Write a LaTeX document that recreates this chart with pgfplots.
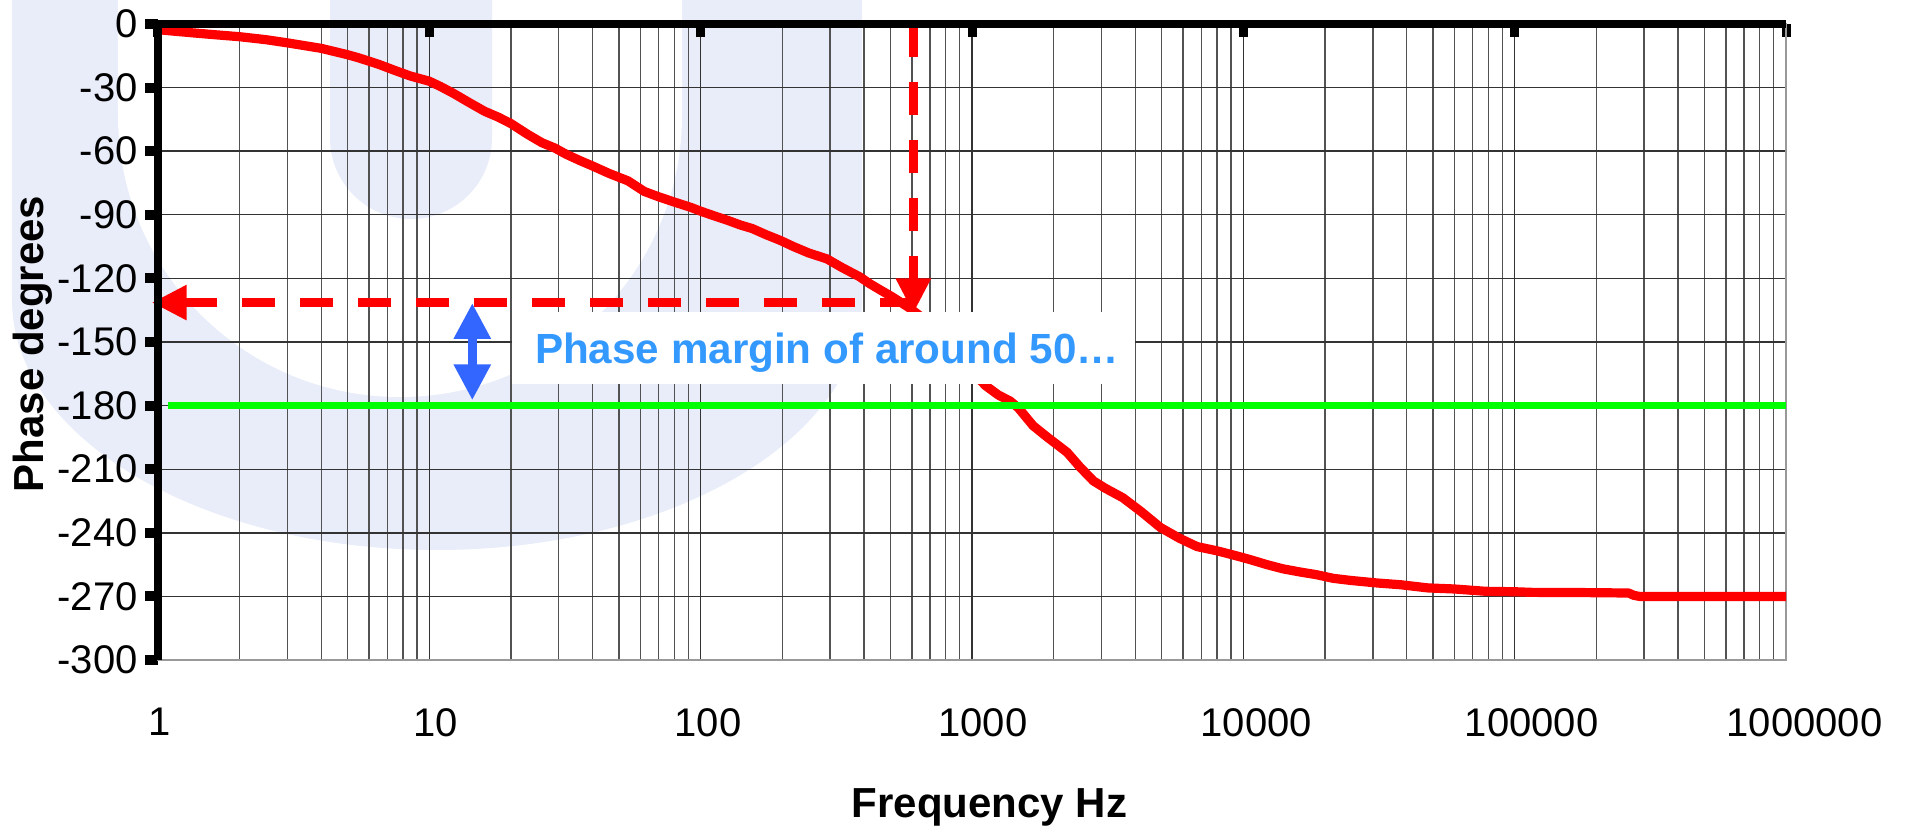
\documentclass[border=0pt]{standalone}
\usepackage{fontspec}
\setmainfont{Liberation Sans}
\usepackage{pgfplots}
\usepackage{pgfplotstable}
\pgfplotsset{compat=1.18}
\usetikzlibrary{arrows.meta}

\definecolor{wm}{RGB}{233,237,249}
\definecolor{curvered}{RGB}{255,0,0}
\definecolor{limitgreen}{RGB}{0,255,0}
\definecolor{marginblue}{RGB}{51,102,255}
\definecolor{notetext}{RGB}{51,153,255}

% measured open-loop phase (Hz, degrees)
\pgfplotstableread{
f deg
1 -2.7
1.35 -4.2
1.6 -5
2 -6
2.5 -7.4
3 -8.9
4 -11.5
5 -14.5
5.5 -16
6.5 -19
7.5 -22
8.5 -24.5
10 -27
11 -29.5
12.3 -32.8
14 -37
16 -41.2
18 -44
20 -47
23 -52
26 -56
29 -58.5
32 -61.5
36 -64.5
40 -67
46 -70.5
54 -74
62 -79
70 -81.5
80 -84
92 -86.5
100 -88.3
111 -90.3
125 -92.5
140 -94.8
155 -96.5
175 -99.5
196 -102
220 -105
250 -108
292 -110.8
331 -114.8
386 -119.3
420 -122.5
460 -125.5
505 -128.5
550 -131.5
592 -134.2
640 -137.5
720 -144
820 -152
920 -159
1020 -165
1120 -170.5
1250 -175
1380 -177.8
1480 -181
1680 -189.5
1900 -195
2240 -202
2500 -209
2800 -215.5
3100 -219
3600 -223.5
4200 -230
4950 -237.5
5800 -242.5
6750 -246.5
8000 -248.5
9200 -250.5
10500 -252.5
12200 -255
14000 -257
16200 -258.5
18500 -259.7
21500 -261.5
25000 -262.5
31300 -263.7
38000 -264.5
47900 -266
60000 -266.5
78200 -267.6
100000 -267.8
116000 -268.1
180000 -268.2
263000 -268.4
275000 -269.5
288000 -270
500000 -270
1000000 -270
}\phasedata

\begin{document}
\begin{tikzpicture}
\path[use as bounding box] (-79pt,-82.5pt) rectangle (874pt,330pt);

% background logo
\fill[wm] (-73pt,340pt) -- (-73pt,180pt)
  arc[start angle=180,end angle=360,x radius=212.5pt,y radius=125pt]
  -- (352pt,340pt) -- cycle;
\fill[white] (-20pt,340pt) -- (-20pt,272.5pt)
  arc[start angle=180,end angle=360,radius=141pt]
  -- (262pt,340pt) -- cycle;
\fill[wm] (86pt,340pt) -- (86pt,261pt)
  arc[start angle=180,end angle=360,radius=40.5pt]
  -- (167pt,340pt) -- cycle;

\begin{axis}[
  at={(0pt,0pt)}, anchor=south west,
  scale only axis, width=814pt, height=318pt,
  xmode=log, xmin=1, xmax=1000000, ymin=-300, ymax=0,
  xtick={1,10,100,1000,10000,100000,1000000},
  xticklabels={\hspace{2pt}1,\hspace{6pt}10,\hspace{7.4pt}100,\hspace{11pt}1000,\hspace{13pt}10000,\hspace{17pt}100000,\hspace{18.5pt}1000000},
  minor xtick={2,3,4,5,6,7,8,9,20,30,40,50,60,70,80,90,200,300,400,500,600,700,800,900,2000,3000,4000,5000,6000,7000,8000,9000,20000,30000,40000,50000,60000,70000,80000,90000,200000,300000,400000,500000,600000,700000,800000,900000},
  ytick={-300,-270,-240,-210,-180,-150,-120,-90,-60,-30,0},
  yticklabels={-300,-270,-240,-210,-180,-150,-120,-90,-60,-30,0},
  xtick pos=right, xticklabel pos=left,
  ytick pos=left,
  xtick align=inside, ytick align=outside,
  major tick length=6.5pt, minor tick length=0pt,
  xtick style={line width=4.5pt, black},
  ytick style={line width=5pt, black},
  xmajorgrids, xminorgrids, ymajorgrids,
  major grid style={black!80, line width=0.7pt},
  minor grid style={black!68, line width=0.7pt},
  axis line style={black!40, line width=1.3pt},
  ticklabel style={font=\fontsize{20}{24}\selectfont},
  xticklabel style={anchor=north, inner sep=0pt, yshift=-24pt},
  yticklabel style={anchor=east, inner sep=0pt, xshift=-3.5pt},
  xlabel={Frequency Hz}, ylabel={Phase degrees},
  label style={font=\bfseries\fontsize{21}{25}\selectfont},
  xlabel style={at={(axis description cs:0.5107,-0.2484)}, anchor=base},
  ylabel style={at={(axis description cs:-0.0706,0.497)}, anchor=base},
  clip=false,
]

\addplot[curvered, line width=4.6pt, line join=round] table[x=f,y=deg] {\phasedata};

% crossover frequency and phase read-off
\addplot[curvered, line width=4.5pt, dash pattern=on 16.5pt off 12.5pt,
  -{Triangle[length=17.5pt,width=16.5pt]}] coordinates {(608,0) (608,-136.5)};
\addplot[curvered, line width=4.5pt, dash pattern=on 16.5pt off 12.5pt,
  -{Triangle[length=17.5pt,width=16.5pt]}] coordinates {(608,-131.4) (0.948,-131.4)};

% -180 degree reference
\addplot[limitgreen, line width=3.8pt] coordinates {(1.085,-180) (1000000,-180)};

% margin indicator
\addplot[marginblue, line width=4.5pt,
  {Triangle[length=18pt,width=17.5pt]}-{Triangle[length=18pt,width=17.5pt]}]
  coordinates {(14.4,-131.6) (14.4,-177.5)};

\fill[white] (axis cs:20.2,-136) rectangle (axis cs:3990,-170);
\node[anchor=base west, inner sep=0pt, text=notetext,
  font=\bfseries\fontsize{21.1}{25}\selectfont]
  at (axis cs:24.44,-160) {Phase margin of around 50…};

\draw[black, line width=4pt] (rel axis cs:0,0) -- (rel axis cs:0,1) -- (rel axis cs:1,1);
\end{axis}
\end{tikzpicture}
\end{document}
